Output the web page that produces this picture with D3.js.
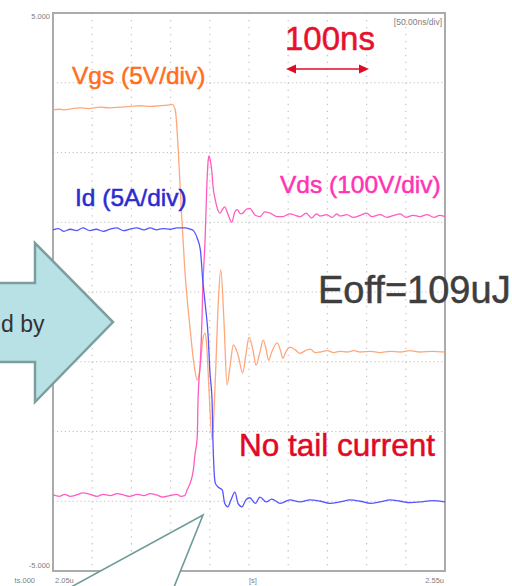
<!DOCTYPE html>
<html>
<head>
<meta charset="utf-8">
<script src="https://cdn.jsdelivr.net/npm/d3@7"></script>
<style>
  html, body { margin: 0; padding: 0; background: #ffffff; }
  svg { display: block; font-family: "Liberation Sans", Arial, sans-serif; }
</style>
</head>
<body>
<svg id="chart" width="512" height="586"></svg>
<script>
// Turn-off waveform capture: time in ns from the left edge of the screen,
// amplitude in screen divisions from the centre line (8 divisions tall).
const timeDomain = [0, 500];
const divDomain = [-4, 4];
const timeGrid = [50, 100, 150, 200, 250, 300, 350, 400, 450];
const divGrid = [-3, -2, -1, 0, 1, 2, 3];

const yTickLabels = ["5.000", "-5.000"];
const xTickLabels = ["2.05u", "[s]", "2.55u"];
const scaleLabel = "[50.00ns/div]";
const cornerLabel = "ts.000";

// Gate-source voltage, 5 V/div
const vgs = [
  [0, 2.61], [8, 2.62], [15, 2.61], [25, 2.63], [34, 2.64], [45, 2.63], [60, 2.65], [72, 2.64],
  [86, 2.65], [98, 2.66], [111, 2.67], [124, 2.66], [137, 2.67], [146, 2.68], [152, 2.69],
  [156, 2.61], [159, 2.18], [163, 1.32], [168, 0.34], [175, -0.54], [180, -1.05], [184, -1.26],
  [188, -1.05], [191, -0.69], [194, -0.59], [196, -0.76], [199, -1.41], [203, -2.12],
  [207, -1.26], [211, -0.11], [214, 0.32], [218, -0.40], [222, -1.33], [226, -1.05],
  [230, -0.76], [236, -0.90], [242, -1.16], [246, -0.90], [250, -0.65], [255, -0.83],
  [259, -1.05], [264, -0.86], [268, -0.69], [272, -0.83], [275, -0.98], [279, -0.86],
  [286, -0.73], [290, -0.83], [293, -0.95], [297, -0.86], [302, -0.79], [309, -0.83],
  [315, -0.88], [322, -0.84], [328, -0.82], [335, -0.87], [341, -0.86], [350, -0.84],
  [358, -0.87], [366, -0.85], [375, -0.86], [384, -0.84], [392, -0.86], [405, -0.85],
  [417, -0.87], [430, -0.85], [443, -0.86], [455, -0.84], [468, -0.86], [484, -0.85], [500, -0.86]
];

// Drain current, 5 A/div
const id = [
  [0, 0.89], [7, 0.91], [14, 0.87], [22, 0.90], [30, 0.88], [38, 0.92], [47, 0.88], [55, 0.90],
  [64, 0.87], [73, 0.90], [81, 0.92], [90, 0.88], [98, 0.90], [107, 0.92], [116, 0.89],
  [124, 0.92], [132, 0.89], [140, 0.91], [149, 0.90], [158, 0.92], [168, 0.92], [175, 0.90],
  [179, 0.88], [184, 0.77], [188, 0.60], [191, 0.17], [194, -0.16], [198, -0.65], [200, -1.12],
  [203, -1.59], [204, -2.12], [207, -2.74], [211, -2.80], [216, -2.84], [219, -3.03],
  [223, -3.08], [227, -2.98], [232, -2.87], [236, -3.03], [241, -3.08], [246, -2.98],
  [251, -2.95], [258, -3.03], [264, -2.94], [272, -3.01], [279, -2.97], [290, -3.03],
  [302, -2.98], [315, -3.01], [328, -2.98], [341, -3.00], [353, -3.03], [366, -3.01],
  [379, -2.98], [392, -3.00], [405, -3.03], [417, -3.01], [430, -2.98], [443, -3.00],
  [456, -3.02], [468, -3.01], [484, -2.99], [500, -3.01]
];

// Drain-source voltage, 100 V/div
const vds = [
  [0, -2.91], [8, -2.93], [15, -2.90], [22, -2.93], [30, -2.91], [38, -2.88], [47, -2.90],
  [56, -2.93], [64, -2.90], [73, -2.92], [82, -2.89], [90, -2.91], [98, -2.93], [107, -2.90],
  [116, -2.92], [124, -2.89], [132, -2.91], [140, -2.94], [149, -2.92], [158, -2.90],
  [163, -2.93], [168, -2.92], [171, -2.84], [175, -2.74], [179, -2.55], [181, -2.34],
  [184, -2.08], [185, -1.55], [188, -0.98], [190, -0.40], [191, 0.03], [194, 0.75],
  [196, 1.46], [198, 1.89], [199, 1.95], [200, 1.92], [203, 1.68], [204, 1.53], [207, 1.32],
  [209, 1.22], [213, 1.13], [216, 1.18], [219, 1.22], [223, 1.12], [228, 1.00], [232, 1.15],
  [235, 1.18], [239, 1.12], [242, 1.13], [247, 1.19], [251, 1.20], [258, 1.10], [264, 1.08],
  [270, 1.15], [277, 1.13], [286, 1.08], [293, 1.08], [302, 1.12], [309, 1.10], [315, 1.08],
  [323, 1.13], [330, 1.06], [336, 1.12], [341, 1.09], [349, 1.11], [356, 1.07], [362, 1.12],
  [366, 1.09], [375, 1.11], [383, 1.07], [392, 1.10], [400, 1.13], [407, 1.08], [417, 1.11],
  [426, 1.07], [435, 1.10], [443, 1.12], [450, 1.07], [459, 1.10], [468, 1.08], [477, 1.11],
  [486, 1.07], [493, 1.10], [500, 1.08]
];

const svg = d3.select("#chart");
const x = d3.scaleLinear().domain(timeDomain).range([53, 445]);
const y = d3.scaleLinear().domain(divDomain).range([571, 13]);

// Dotted graticule: ten dots per division along every line
const minorX = x(5) - x(0);
const minorY = y(0) - y(0.1);
const grid = svg.append("g").attr("stroke", "#c4c4c4").attr("stroke-width", 1.2);
grid.selectAll("line.v").data(timeGrid).join("line")
  .attr("x1", d => x(d)).attr("x2", d => x(d))
  .attr("y1", y(divDomain[1])).attr("y2", y(divDomain[0]))
  .attr("stroke-dasharray", `1.3,${(minorY - 1.3).toFixed(3)}`);
grid.selectAll("line.h").data(divGrid).join("line")
  .attr("y1", d => y(d)).attr("y2", d => y(d))
  .attr("x1", x(timeDomain[0])).attr("x2", x(timeDomain[1]))
  .attr("stroke-dasharray", `1.3,${(minorX - 1.3).toFixed(3)}`);

// Screen frame
svg.append("rect")
  .attr("x", x(timeDomain[0])).attr("y", y(divDomain[1]))
  .attr("width", x(timeDomain[1]) - x(timeDomain[0]))
  .attr("height", y(divDomain[0]) - y(divDomain[1]))
  .attr("fill", "none").attr("stroke", "#ababab").attr("stroke-width", 2);

// Waveforms
const line = d3.line().x(d => x(d[0])).y(d => y(d[1])).curve(d3.curveMonotoneX);
const traces = [
  { data: vgs, color: "#ffa77c" },
  { data: vds, color: "#ff5cc0" },
  { data: id, color: "#5555ff" }
];
svg.append("g").selectAll("path").data(traces).join("path")
  .attr("d", d => line(d.data))
  .attr("fill", "none")
  .attr("stroke", d => d.color)
  .attr("stroke-width", 1.3)
  .attr("stroke-linejoin", "round");

// Scope scale text
const small = svg.append("g").attr("fill", "#808080").attr("font-size", 7.5);
small.append("text").attr("x", 50).attr("y", 19).attr("text-anchor", "end").text(yTickLabels[0]);
small.append("text").attr("x", 50).attr("y", 568).attr("text-anchor", "end").text(yTickLabels[1]);
small.append("text").attr("x", 35).attr("y", 583).attr("text-anchor", "end").text(cornerLabel);
small.append("text").attr("x", x(timeDomain[0]) + 2).attr("y", 583).text(xTickLabels[0]);
small.append("text").attr("x", 253).attr("y", 583).attr("text-anchor", "middle").text(xTickLabels[1]);
small.append("text").attr("x", x(timeDomain[1]) - 1).attr("y", 583).attr("text-anchor", "end").text(xTickLabels[2]);
small.append("text").attr("x", 442).attr("y", 25).attr("text-anchor", "end").attr("font-size", 8.5).text(scaleLabel);

// Channel labels and notes
const notes = [
  { text: "Vgs (5V/div)", x: 72, y: 84, size: 24.5, color: "#ff6e1e" },
  { text: "Id (5A/div)", x: 75, y: 206, size: 24.5, color: "#2b2bd0" },
  { text: "Vds (100V/div)", x: 280, y: 193, size: 24.5, color: "#ff33b4" },
  { text: "100ns", x: 285, y: 50, size: 33, color: "#e8102c" },
  { text: "Eoff=109uJ", x: 318, y: 303, size: 38, color: "#3e3e3e" },
  { text: "No tail current", x: 239, y: 456, size: 31.5, color: "#e00a26" }
];
svg.append("g").selectAll("text").data(notes).join("text")
  .attr("x", d => d.x).attr("y", d => d.y)
  .attr("font-size", d => d.size)
  .attr("fill", d => d.color)
  .attr("stroke", d => d.color)
  .attr("stroke-width", 0.5)
  .text(d => d.text);

// 100 ns span marker
const span = svg.append("g").attr("stroke", "#e00a26").attr("fill", "#e00a26");
span.append("line").attr("x1", 292).attr("x2", 363).attr("y1", 69).attr("y2", 69).attr("stroke-width", 1.6);
span.append("path").attr("d", "M286,69 L296,64.5 L296,73.5 Z").attr("stroke", "none");
span.append("path").attr("d", "M369,69 L359,64.5 L359,73.5 Z").attr("stroke", "none");

// Block arrow on the left
svg.append("path")
  .attr("d", "M-6,283 L35,283 L35,243 L113,322 L35,402 L35,362 L-6,362 Z")
  .attr("fill", "#b8e1e5").attr("stroke", "#7d9e9e").attr("stroke-width", 2.5)
  .attr("stroke-linejoin", "miter");
svg.append("text").attr("x", 1).attr("y", 332)
  .attr("font-size", 23).attr("fill", "#333333").text("d by");

// Callout pointer at the bottom
svg.append("path")
  .attr("d", "M62,592 L203,515 L172,592")
  .attr("fill", "#ffffff").attr("stroke", "#6f9a9a").attr("stroke-width", 1.6)
  .attr("stroke-linejoin", "miter");
</script>
</body>
</html>
